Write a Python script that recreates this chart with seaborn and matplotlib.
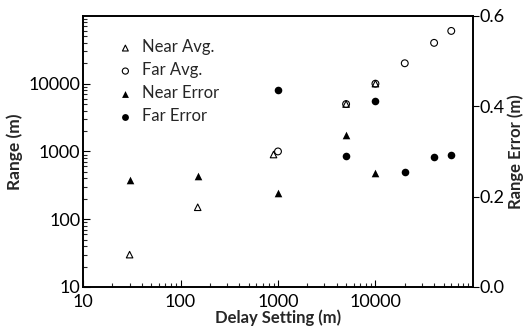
import matplotlib
matplotlib.use("Agg")
import matplotlib.pyplot as plt
import seaborn as sns
import numpy as np
from matplotlib.ticker import LogLocator, FixedLocator, NullFormatter, FuncFormatter

sns.set_theme(style="white")
plt.rcParams['font.family'] = ['Lato', 'DejaVu Sans']

near_avg_x = [30, 150, 900, 5000, 10000]
near_avg_y = [30, 150, 900, 5000, 10000]
far_avg_x = [1000, 5000, 10000, 20000, 40000, 60000]
far_avg_y = [1000, 5000, 10000, 20000, 40000, 60000]
near_err_x = [30, 150, 1000, 5000, 10000]
near_err_y = [0.236, 0.246, 0.209, 0.337, 0.252]
far_err_x = [1000, 5000, 10000, 20000, 40000, 60000]
far_err_y = [0.436, 0.290, 0.412, 0.255, 0.288, 0.293]

x_ticks = [10, 100, 1000, 10000]
y_ticks = [10, 100, 1000, 10000]
y2_ticks = [0.0, 0.2, 0.4, 0.6]

fig = plt.figure(figsize=(5.26, 3.31), dpi=100)
ax = fig.add_axes([0.158, 0.133, 0.741, 0.819])
ax2 = ax.twinx()

sns.scatterplot(x=near_avg_x, y=near_avg_y, ax=ax, marker='^', s=22,
                color='black', linewidth=0.8, label='Near Avg.')
ax.collections[-1].set_facecolor('none')
ax.collections[-1].set_edgecolor('black')
sns.scatterplot(x=far_avg_x, y=far_avg_y, ax=ax, marker='o', s=24,
                color='black', linewidth=0.8, label='Far Avg.')
ax.collections[-1].set_facecolor('none')
ax.collections[-1].set_edgecolor('black')
sns.scatterplot(x=near_err_x, y=near_err_y, ax=ax2, marker='^', s=30,
                color='black', linewidth=0, label='Near Error')
sns.scatterplot(x=far_err_x, y=far_err_y, ax=ax2, marker='o', s=30,
                color='black', linewidth=0, label='Far Error')

ax.set_xscale('log')
ax.set_yscale('log')
ax.set_xlim(10, 100000)
ax.set_ylim(10, 100000)
ax2.set_ylim(0, 0.6)

fmt = FuncFormatter(lambda v, p: f"{int(round(v))}")
ax.xaxis.set_major_locator(FixedLocator(x_ticks))
ax.xaxis.set_major_formatter(fmt)
ax.xaxis.set_minor_locator(LogLocator(base=10, subs=np.arange(2, 10), numticks=20))
ax.xaxis.set_minor_formatter(NullFormatter())
ax.yaxis.set_major_locator(FixedLocator(y_ticks))
ax.yaxis.set_major_formatter(fmt)
ax.yaxis.set_minor_locator(LogLocator(base=10, subs=np.arange(2, 10), numticks=20))
ax.yaxis.set_minor_formatter(NullFormatter())
ax2.yaxis.set_major_locator(FixedLocator(y2_ticks))
ax2.yaxis.set_major_formatter(FuncFormatter(lambda v, p: f"{v:.1f}"))

ax.tick_params(axis='both', which='major', direction='in', length=5, width=0.8,
               labelsize=13, colors='black', left=True, bottom=True, right=False, top=False)
ax.tick_params(axis='x', which='major', pad=5)
ax.tick_params(axis='y', which='major', pad=2)
ax.tick_params(axis='both', which='minor', direction='in', length=3, width=0.8,
               left=True, bottom=True, right=False, top=False)
ax2.tick_params(axis='y', which='major', direction='out', length=4, width=0.8,
                labelsize=13, colors='black', right=True, pad=1)

for a in (ax, ax2):
    for sp in a.spines.values():
        sp.set_color('black')
        sp.set_linewidth(1.2)
        sp.set_visible(True)

ax.set_xlabel('Delay Setting (m)', fontsize=12, fontweight='bold', labelpad=0)
ax.set_ylabel('Range (m)', fontsize=12.5, fontweight='bold', labelpad=4)
ax2.set_ylabel('Range Error (m)', fontsize=12, fontweight='bold', labelpad=2)

h1, l1 = ax.get_legend_handles_labels()
h2, l2 = ax2.get_legend_handles_labels()
if ax2.get_legend():
    ax2.get_legend().remove()
ax.legend(h1 + h2, l1 + l2, loc='upper left', bbox_to_anchor=(0.04, 0.95),
          frameon=False, fontsize=12, handletextpad=0.0, labelspacing=0.42,
          markerscale=0.9, borderaxespad=0.2)

fig.savefig('out.png', dpi=100)
